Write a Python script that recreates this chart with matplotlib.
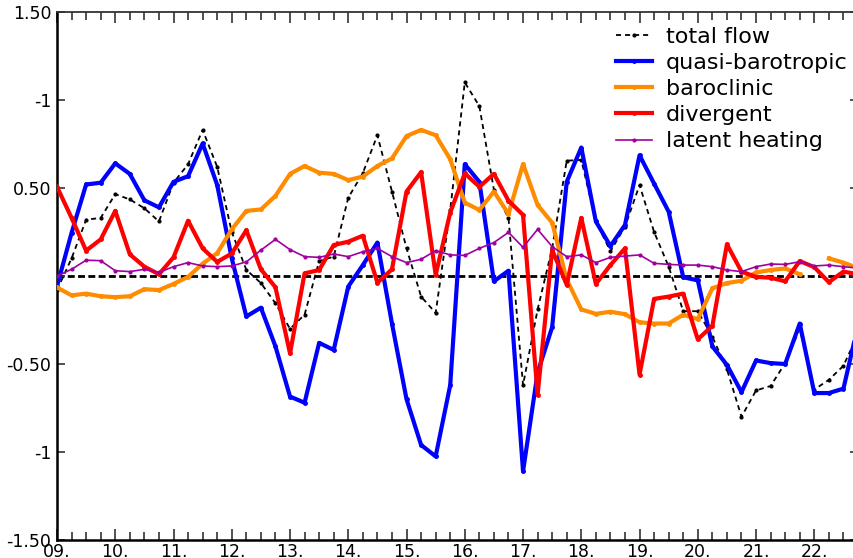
import numpy as np
import matplotlib
matplotlib.use("Agg")
import matplotlib.pyplot as plt
from matplotlib.ticker import FixedLocator, MultipleLocator

# 6-hourly analysis times, day of month
t = 9.0 + 0.25 * np.arange(56)

total_flow = [-0.08, 0.10, 0.32, 0.33, 0.465, 0.435, 0.385, 0.31, 0.53, 0.635,
              0.83, 0.62, 0.25, 0.035, -0.04, -0.155, -0.30, -0.22, 0.085, 0.11,
              0.445, 0.585, 0.80, 0.48, 0.157, -0.117, -0.21, 0.375, 1.10, 0.965,
              0.49, 0.33, -0.62, -0.19, 0.157, 0.655, 0.66, 0.31, 0.14, 0.28,
              0.517, 0.25, 0.053, -0.20, -0.20, -0.345, -0.53, -0.80, -0.65, -0.625,
              -0.495, -0.30, -0.645, -0.59, -0.51, -0.33]

quasi_barotropic = [-0.058, 0.245, 0.52, 0.53, 0.64, 0.58, 0.43, 0.39, 0.535, 0.567,
                    0.753, 0.517, 0.10, -0.23, -0.18, -0.40, -0.685, -0.72, -0.38, -0.42,
                    -0.06, 0.062, 0.19, -0.27, -0.70, -0.96, -1.025, -0.62, 0.635, 0.535,
                    -0.03, 0.03, -1.11, -0.55, -0.29, 0.535, 0.73, 0.31, 0.17, 0.29,
                    0.686, 0.525, 0.365, -0.007, -0.025, -0.40, -0.505, -0.66, -0.48, -0.495,
                    -0.50, -0.27, -0.665, -0.665, -0.64, -0.28]

baroclinic = [-0.065, -0.11, -0.10, -0.115, -0.12, -0.115, -0.075, -0.08, -0.045, -0.005,
              0.07, 0.13, 0.265, 0.37, 0.378, 0.455, 0.58, 0.625, 0.587, 0.58,
              0.545, 0.565, 0.625, 0.668, 0.795, 0.83, 0.80, 0.663, 0.417, 0.375,
              0.48, 0.352, 0.636, 0.403, 0.303, -0.02, -0.19, -0.215, -0.203, -0.217,
              -0.263, -0.27, -0.27, -0.22, -0.245, -0.07, -0.04, -0.027, 0.02, 0.034,
              0.043, 0.01, np.nan, 0.10, 0.076, 0.045]

divergent = [0.507, 0.33, 0.144, 0.208, 0.37, 0.123, 0.053, 0.01, 0.106, 0.314,
             0.157, 0.08, 0.128, 0.26, 0.038, -0.064, -0.44, 0.015, 0.034, 0.176,
             0.195, 0.229, -0.038, 0.038, 0.48, 0.59, 0.006, 0.36, 0.583, 0.507,
             0.58, 0.428, 0.347, -0.675, 0.148, -0.05, 0.33, -0.045, 0.062, 0.157,
             -0.56, -0.13, -0.117, -0.10, -0.36, -0.283, 0.18, 0.025, -0.005, -0.01,
             -0.03, 0.085, 0.05, -0.035, 0.025, 0.01]

latent_heating = [0.0, 0.038, 0.09, 0.087, 0.03, 0.025, 0.038, 0.02, 0.053, 0.076,
                  0.057, 0.053, 0.057, 0.08, 0.147, 0.208, 0.15, 0.11, 0.106, 0.125,
                  0.11, 0.138, 0.157, 0.11, 0.076, 0.095, 0.144, 0.12, 0.117, 0.157,
                  0.19, 0.248, 0.163, 0.265, 0.167, 0.11, 0.12, 0.076, 0.106, 0.113,
                  0.12, 0.072, 0.066, 0.062, 0.062, 0.053, 0.034, 0.025, 0.053, 0.068,
                  0.066, 0.081, 0.057, 0.062, 0.053, 0.045]

day_ticks = list(range(9, 23))
day_labels = ["%02d." % d for d in day_ticks]
y_ticks = [-1.5, -1.0, -0.5, 0.0, 0.5, 1.0, 1.5]
y_labels = ["-1.50", "-1", "-0.50", "", "0.50", "-1", "1.50"]

plt.rcParams["font.family"] = "DejaVu Sans"

fig = plt.figure(figsize=(8.54, 5.58), dpi=100)
ax = fig.add_axes([57 / 854, 18 / 558, 801 / 854, 528 / 558])

# zero reference
ax.axhline(0.0, color="k", lw=2.0, ls=(0, (2.5, 1.2)), zorder=1)

ax.plot(t, total_flow, color="k", lw=1.3, ls=(0, (2.8, 2.2)),
        marker=".", ms=4, label="total flow", zorder=2)
ax.plot(t, quasi_barotropic, color="#0000ff", lw=3.0,
        marker=".", ms=5, label="quasi-barotropic", zorder=3)
ax.plot(t, baroclinic, color="#ff8c00", lw=3.0,
        marker=".", ms=5, label="baroclinic", zorder=3)
ax.plot(t, divergent, color="#ff0000", lw=3.0,
        marker=".", ms=5, label="divergent", zorder=4)
ax.plot(t, latent_heating, color="#a000a0", lw=1.2,
        marker=".", ms=4, label="latent heating", zorder=5)

ax.set_xlim(9.0, 22.75)
ax.set_ylim(-1.5, 1.5)

ax.xaxis.set_major_locator(FixedLocator(day_ticks))
ax.set_xticklabels(day_labels)
ax.xaxis.set_minor_locator(MultipleLocator(0.25))
ax.yaxis.set_major_locator(FixedLocator(y_ticks))
ax.set_yticklabels(y_labels)

ax.tick_params(axis="both", which="both", direction="in",
               top=True, right=True, color="#333333", width=1.2)
ax.tick_params(axis="x", which="major", length=8, labelsize=12.5, pad=2)
ax.tick_params(axis="x", which="minor", length=5.5)
ax.tick_params(axis="y", which="major", length=6, labelsize=12.5, pad=4)

for side in ["left", "bottom"]:
    ax.spines[side].set_linewidth(1.8)
for side in ["top", "right"]:
    ax.spines[side].set_linewidth(1.3)
    ax.spines[side].set_color("#333333")

ax.legend(loc="upper right", bbox_to_anchor=(0.9875, 0.9725),
          frameon=False, fontsize=16, numpoints=1,
          handlelength=1.6, handletextpad=0.65, labelspacing=0.28,
          borderpad=0, borderaxespad=0)

fig.savefig("out.png", dpi=100)
